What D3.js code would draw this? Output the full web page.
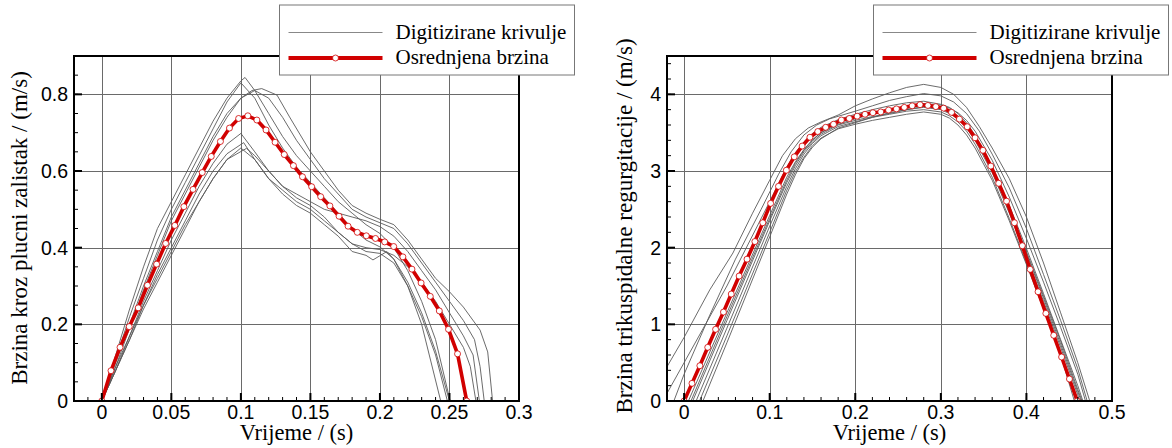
<!DOCTYPE html>
<html>
<head>
<meta charset="utf-8">
<script src="https://cdn.jsdelivr.net/npm/d3@7"></script>
<style>
  body { margin: 0; background: #fff; }
  svg { display: block; }
</style>
</head>
<body>
<svg width="1172" height="448"></svg>
<script>
// Legend labels shared by both panels
var legendLabels = ['Digitizirane krivulje', 'Osrednjena brzina'];

// ---- Left panel: flow through the pulmonary valve ----
var pulmXTicks = [0, 0.05, 0.1, 0.15, 0.2, 0.25, 0.3];
var pulmYTicks = [0, 0.2, 0.4, 0.6, 0.8];

// averaged velocity (red line with markers)
var pulmTime = [0, 0.0066, 0.0131, 0.0197, 0.0262, 0.0328, 0.0394, 0.0459, 0.0525, 0.059,
    0.0656, 0.0722, 0.0787, 0.0853, 0.0918, 0.0984, 0.105, 0.1115, 0.1181, 0.1246,
    0.1312, 0.1378, 0.1443, 0.1509, 0.1574, 0.164, 0.1706, 0.1771, 0.1837, 0.1902,
    0.1968, 0.2034, 0.2099, 0.2165, 0.223, 0.2296, 0.2362, 0.2427, 0.2493, 0.2558, 0.2624];
var pulmMean = [0, 0.079, 0.140, 0.194, 0.243, 0.302, 0.357, 0.411, 0.458, 0.507,
    0.552, 0.596, 0.638, 0.677, 0.712, 0.737, 0.744, 0.733, 0.707, 0.675,
    0.643, 0.614, 0.585, 0.559, 0.533, 0.509, 0.482, 0.456, 0.440, 0.431,
    0.424, 0.415, 0.403, 0.376, 0.344, 0.308, 0.273, 0.235, 0.187, 0.123, 0];

var pulmCurves = [
    [[0,0],[0.01,0.12],[0.02,0.24],[0.03,0.35],[0.04,0.45],[0.05,0.52],[0.06,0.59],[0.07,0.66],[0.08,0.73],[0.09,0.79],[0.1,0.835],[0.103,0.844],[0.11,0.81],[0.12,0.75],[0.13,0.69],[0.14,0.64],[0.15,0.6],[0.16,0.56],[0.17,0.52],[0.18,0.49],[0.19,0.46],[0.2,0.437],[0.21,0.4],[0.22,0.34],[0.23,0.26],[0.24,0.16],[0.2505,0]],
    [[0,0],[0.01,0.11],[0.02,0.22],[0.03,0.32],[0.04,0.42],[0.05,0.5],[0.06,0.57],[0.07,0.64],[0.08,0.71],[0.09,0.78],[0.1,0.83],[0.11,0.79],[0.12,0.72],[0.13,0.66],[0.14,0.61],[0.15,0.57],[0.16,0.53],[0.17,0.49],[0.18,0.45],[0.19,0.42],[0.2,0.402],[0.21,0.37],[0.22,0.3],[0.23,0.2],[0.2437,0]],
    [[0,0],[0.01,0.09],[0.02,0.19],[0.03,0.29],[0.04,0.38],[0.05,0.47],[0.06,0.54],[0.07,0.61],[0.08,0.68],[0.09,0.74],[0.1,0.79],[0.108,0.81],[0.115,0.815],[0.126,0.798],[0.135,0.741],[0.15,0.65],[0.16,0.6],[0.17,0.55],[0.18,0.51],[0.19,0.49],[0.2,0.474],[0.21,0.46],[0.22,0.42],[0.23,0.37],[0.24,0.32],[0.25,0.285],[0.26,0.245],[0.272,0.185],[0.2775,0.128],[0.281,0]],
    [[0,0],[0.01,0.1],[0.02,0.2],[0.03,0.3],[0.04,0.39],[0.05,0.48],[0.06,0.55],[0.07,0.62],[0.08,0.69],[0.09,0.75],[0.1,0.79],[0.11,0.81],[0.12,0.79],[0.13,0.74],[0.14,0.68],[0.15,0.63],[0.16,0.58],[0.17,0.54],[0.18,0.5],[0.19,0.48],[0.2,0.465],[0.21,0.45],[0.22,0.41],[0.23,0.36],[0.24,0.31],[0.25,0.26],[0.26,0.21],[0.268,0.16],[0.272,0.09],[0.275,0]],
    [[0,0],[0.01,0.09],[0.02,0.17],[0.03,0.26],[0.04,0.34],[0.05,0.42],[0.06,0.49],[0.07,0.56],[0.08,0.62],[0.09,0.67],[0.1,0.698],[0.11,0.65],[0.12,0.6],[0.13,0.56],[0.14,0.54],[0.15,0.52],[0.16,0.5],[0.17,0.49],[0.18,0.48],[0.19,0.47],[0.2,0.455],[0.21,0.43],[0.22,0.39],[0.23,0.34],[0.24,0.29],[0.25,0.23],[0.26,0.17],[0.267,0.12],[0.2715,0]],
    [[0,0],[0.01,0.08],[0.02,0.16],[0.03,0.25],[0.04,0.33],[0.05,0.4],[0.06,0.47],[0.07,0.54],[0.08,0.6],[0.09,0.645],[0.102,0.674],[0.11,0.63],[0.12,0.58],[0.13,0.55],[0.14,0.52],[0.15,0.5],[0.16,0.47],[0.17,0.44],[0.18,0.41],[0.19,0.39],[0.2,0.385],[0.21,0.36],[0.22,0.3],[0.23,0.22],[0.24,0.12],[0.2485,0]],
    [[0,0],[0.01,0.08],[0.02,0.16],[0.03,0.24],[0.04,0.31],[0.05,0.38],[0.06,0.45],[0.07,0.52],[0.08,0.58],[0.09,0.63],[0.1,0.66],[0.11,0.63],[0.12,0.58],[0.13,0.54],[0.14,0.51],[0.15,0.49],[0.16,0.46],[0.17,0.43],[0.18,0.39],[0.19,0.38],[0.195,0.368],[0.205,0.39],[0.21,0.37],[0.22,0.31],[0.23,0.23],[0.24,0.13],[0.25,0]],
    [[0,0],[0.01,0.08],[0.02,0.17],[0.03,0.25],[0.04,0.32],[0.05,0.39],[0.06,0.46],[0.07,0.52],[0.08,0.58],[0.09,0.63],[0.104,0.659],[0.11,0.64],[0.12,0.6],[0.13,0.56],[0.14,0.53],[0.15,0.51],[0.16,0.48],[0.17,0.44],[0.18,0.41],[0.19,0.4],[0.2,0.395],[0.21,0.38],[0.22,0.35],[0.23,0.31],[0.24,0.26],[0.25,0.2],[0.26,0.14],[0.265,0.09],[0.269,0]]
];

// ---- Right panel: tricuspid regurgitation ----
var trikXTicks = [0, 0.1, 0.2, 0.3, 0.4, 0.5];
var trikYTicks = [0, 1, 2, 3, 4];

var trikTime = [0, 0.0092, 0.0184, 0.0276, 0.0368, 0.046, 0.0551, 0.0643, 0.0735, 0.0827,
    0.0919, 0.1011, 0.1103, 0.1195, 0.1287, 0.1379, 0.147, 0.1562, 0.1654, 0.1746,
    0.1838, 0.193, 0.2022, 0.2114, 0.2206, 0.2298, 0.2389, 0.2481, 0.2573, 0.2665,
    0.2757, 0.2849, 0.2941, 0.3033, 0.3125, 0.3217, 0.3308, 0.34, 0.3492, 0.3584,
    0.3676, 0.3768, 0.386, 0.3952, 0.4044, 0.4136, 0.4227, 0.4319, 0.4411, 0.4503, 0.4595];
var trikMean = [0, 0.23, 0.46, 0.70, 0.935, 1.16, 1.395, 1.63, 1.85, 2.08,
    2.325, 2.578, 2.80, 3.01, 3.185, 3.325, 3.44, 3.515, 3.57, 3.61,
    3.665, 3.685, 3.715, 3.74, 3.76, 3.77, 3.795, 3.81, 3.83, 3.85,
    3.865, 3.855, 3.84, 3.82, 3.765, 3.677, 3.577, 3.433, 3.27, 3.064,
    2.84, 2.607, 2.325, 2.025, 1.717, 1.425, 1.143, 0.857, 0.574, 0.287, 0];

var trikCurves = [
    [[-0.02,0.447],[0,0.83],[0.03,1.45],[0.057,1.93],[0.08,2.45],[0.1,2.88],[0.115,3.2],[0.13,3.42],[0.145,3.56],[0.16,3.64],[0.18,3.73],[0.2,3.85],[0.22,3.94],[0.24,4.02],[0.26,4.09],[0.28,4.13],[0.3,4.09],[0.315,4.0],[0.33,3.83],[0.345,3.58],[0.36,3.3],[0.38,2.9],[0.4,2.4],[0.42,1.8],[0.44,1.15],[0.46,0.5],[0.474,0]],
    [[-0.012,0],[0,0.35],[0.03,1.12],[0.06,1.85],[0.09,2.5],[0.11,2.95],[0.125,3.25],[0.14,3.47],[0.155,3.6],[0.17,3.68],[0.2,3.78],[0.22,3.85],[0.24,3.92],[0.26,3.97],[0.28,4.01],[0.3,3.98],[0.315,3.9],[0.33,3.75],[0.345,3.52],[0.36,3.22],[0.38,2.78],[0.4,2.25],[0.42,1.65],[0.44,1.05],[0.46,0.42],[0.471,0]],
    [[0.005,0],[0.05,1.15],[0.1,2.42],[0.12,2.92],[0.13,3.12],[0.14,3.28],[0.15,3.41],[0.16,3.5],[0.18,3.61],[0.2,3.68],[0.22,3.74],[0.24,3.78],[0.26,3.82],[0.28,3.85],[0.3,3.82],[0.31,3.78],[0.32,3.7],[0.33,3.58],[0.34,3.43],[0.36,3.02],[0.38,2.5],[0.4,1.95],[0.42,1.37],[0.44,0.78],[0.46,0.15],[0.465,0]],
    [[0.01,0],[0.05,1.05],[0.1,2.35],[0.12,2.85],[0.13,3.07],[0.14,3.25],[0.15,3.38],[0.16,3.48],[0.18,3.6],[0.2,3.66],[0.22,3.71],[0.24,3.75],[0.26,3.8],[0.28,3.83],[0.3,3.8],[0.31,3.75],[0.32,3.68],[0.33,3.56],[0.34,3.4],[0.36,2.98],[0.38,2.45],[0.4,1.88],[0.42,1.3],[0.44,0.7],[0.46,0.08],[0.462,0]],
    [[0.014,0],[0.05,0.95],[0.1,2.28],[0.12,2.8],[0.13,3.03],[0.14,3.22],[0.15,3.36],[0.16,3.46],[0.18,3.58],[0.2,3.64],[0.22,3.7],[0.24,3.74],[0.26,3.78],[0.28,3.8],[0.3,3.77],[0.31,3.72],[0.32,3.64],[0.33,3.52],[0.34,3.35],[0.36,2.92],[0.38,2.38],[0.4,1.8],[0.42,1.22],[0.44,0.62],[0.458,0]],
    [[0.018,0],[0.05,0.85],[0.1,2.2],[0.12,2.75],[0.13,2.99],[0.14,3.18],[0.15,3.33],[0.16,3.43],[0.18,3.55],[0.2,3.61],[0.22,3.66],[0.24,3.7],[0.26,3.74],[0.28,3.77],[0.3,3.74],[0.31,3.69],[0.32,3.6],[0.33,3.47],[0.34,3.3],[0.36,2.88],[0.38,2.35],[0.4,1.78],[0.42,1.2],[0.44,0.6],[0.456,0]],
    [[0.022,0],[0.05,0.76],[0.1,2.14],[0.12,2.7],[0.13,2.95],[0.14,3.16],[0.15,3.31],[0.16,3.42],[0.18,3.56],[0.2,3.63],[0.22,3.7],[0.24,3.76],[0.26,3.8],[0.28,3.84],[0.3,3.81],[0.31,3.77],[0.32,3.7],[0.33,3.58],[0.34,3.43],[0.36,3.02],[0.38,2.5],[0.4,1.93],[0.42,1.34],[0.44,0.74],[0.46,0.12],[0.464,0]],
    [[0.008,0],[0.05,1.1],[0.1,2.38],[0.12,2.88],[0.13,3.1],[0.14,3.27],[0.15,3.4],[0.16,3.5],[0.18,3.63],[0.2,3.7],[0.22,3.76],[0.24,3.8],[0.26,3.84],[0.28,3.88],[0.3,3.86],[0.31,3.82],[0.32,3.76],[0.33,3.66],[0.34,3.52],[0.36,3.14],[0.38,2.66],[0.4,2.12],[0.42,1.55],[0.44,0.96],[0.46,0.35],[0.469,0]],
    [[-0.02,0.1],[0,0.5],[0.05,1.5],[0.1,2.6],[0.12,3.05],[0.13,3.24],[0.14,3.38],[0.15,3.49],[0.16,3.57],[0.18,3.67],[0.2,3.74],[0.22,3.8],[0.24,3.85],[0.26,3.89],[0.28,3.91],[0.3,3.87],[0.31,3.83],[0.32,3.75],[0.33,3.63],[0.34,3.47],[0.36,3.06],[0.38,2.55],[0.4,1.99],[0.42,1.4],[0.44,0.8],[0.46,0.2],[0.466,0]]
];

var svg = d3.select('svg');
var red = '#d10000';
var gray = '#5a5a5a';
var serif = '"Liberation Serif", "Times New Roman", serif';
var sans = '"Liberation Sans", Arial, sans-serif';

// draw one framed panel with grid, curves, mean line, axes and legend
function drawPanel(p) {
    var x = d3.scaleLinear().domain(p.xDomain).range(p.xRange);
    var y = d3.scaleLinear().domain(p.yDomain).range([401, 56]);
    var g = svg.append('g');

    g.append('clipPath').attr('id', p.id + '-clip')
        .append('rect')
        .attr('x', x.range()[0]).attr('y', y.range()[1])
        .attr('width', x.range()[1] - x.range()[0])
        .attr('height', y.range()[0] - y.range()[1]);

    // grid lines at the major ticks
    g.selectAll('.vgrid')
        .data(p.xTicks.filter(function(d) { return x(d) < x.range()[1] - 1; }))
        .enter().append('line')
        .attr('x1', function(d) { return Math.round(x(d)) + 0.5; })
        .attr('x2', function(d) { return Math.round(x(d)) + 0.5; })
        .attr('y1', y.range()[0]).attr('y2', y.range()[1])
        .style('stroke', '#6a6a6a').style('stroke-width', 1);
    g.selectAll('.hgrid')
        .data(p.yTicks.filter(function(d) { return d > 0; }))
        .enter().append('line')
        .attr('y1', function(d) { return Math.round(y(d)) + 0.5; })
        .attr('y2', function(d) { return Math.round(y(d)) + 0.5; })
        .attr('x1', x.range()[0]).attr('x2', x.range()[1])
        .style('stroke', '#6a6a6a').style('stroke-width', 1);

    var plot = g.append('g').attr('clip-path', 'url(#' + p.id + '-clip)');

    var curveLine = d3.line()
        .x(function(d) { return x(d[0]); })
        .y(function(d) { return y(d[1]); });
    plot.selectAll('.curve')
        .data(p.curves)
        .enter().append('path')
        .attr('d', curveLine)
        .style('fill', 'none')
        .style('stroke', gray)
        .style('stroke-width', 0.9);

    // averaged velocity
    var meanData = p.time.map(function(t, i) { return [t, p.mean[i]]; });
    plot.append('path')
        .datum(meanData)
        .attr('d', curveLine)
        .style('fill', 'none')
        .style('stroke', red)
        .style('stroke-width', 3.6);
    plot.selectAll('.marker')
        .data(meanData)
        .enter().append('circle')
        .attr('cx', function(d) { return x(d[0]); })
        .attr('cy', function(d) { return y(d[1]); })
        .attr('r', 3)
        .style('fill', '#fff')
        .style('stroke', red)
        .style('stroke-width', 0.8);

    // minor and major ticks, pointing into the plot
    var bottom = y.range()[0], left = x.range()[0];
    g.selectAll('.xminor')
        .data(p.xMinor)
        .enter().append('line')
        .attr('x1', function(d) { return x(d); }).attr('x2', function(d) { return x(d); })
        .attr('y1', bottom).attr('y2', bottom - 4)
        .style('stroke', '#000').style('stroke-width', 1);
    g.selectAll('.xmajor')
        .data(p.xTicks)
        .enter().append('line')
        .attr('x1', function(d) { return x(d); }).attr('x2', function(d) { return x(d); })
        .attr('y1', bottom).attr('y2', bottom - 8)
        .style('stroke', '#000').style('stroke-width', 2);
    g.selectAll('.yminor')
        .data(p.yMinor)
        .enter().append('line')
        .attr('y1', function(d) { return y(d); }).attr('y2', function(d) { return y(d); })
        .attr('x1', left).attr('x2', left + 4)
        .style('stroke', '#000').style('stroke-width', 1);
    g.selectAll('.ymajor')
        .data(p.yTicks)
        .enter().append('line')
        .attr('y1', function(d) { return y(d); }).attr('y2', function(d) { return y(d); })
        .attr('x1', left).attr('x2', left + 8)
        .style('stroke', '#000').style('stroke-width', 2);

    // frame
    g.append('rect')
        .attr('x', x.range()[0]).attr('y', y.range()[1])
        .attr('width', x.range()[1] - x.range()[0])
        .attr('height', y.range()[0] - y.range()[1])
        .style('fill', 'none').style('stroke', '#000').style('stroke-width', 2);

    // tick labels
    g.selectAll('.xlabel')
        .data(p.xTicks)
        .enter().append('text')
        .text(function(d) { return String(d); })
        .attr('x', function(d) { return x(d); })
        .attr('y', 419)
        .style('text-anchor', 'middle')
        .style('font-family', sans).style('font-size', '19.5px');
    g.selectAll('.ylabel')
        .data(p.yTicks)
        .enter().append('text')
        .text(function(d) { return String(d); })
        .attr('x', left - 6)
        .attr('y', function(d) { return y(d); })
        .attr('dy', '0.36em')
        .style('text-anchor', 'end')
        .style('font-family', sans).style('font-size', '19.5px');

    // axis titles
    g.append('text')
        .text('Vrijeme / (s)')
        .attr('x', (x.range()[0] + x.range()[1]) / 2)
        .attr('y', 440)
        .style('text-anchor', 'middle')
        .style('font-family', serif).style('font-size', '22.5px');
    g.append('text')
        .text(p.yTitle)
        .attr('transform', 'translate(' + p.yTitleX + ',' + p.yTitleY + ') rotate(-90)')
        .style('text-anchor', 'middle')
        .style('font-family', serif).style('font-size', '23px');

    // legend
    var lg = svg.append('g').attr('transform', 'translate(' + p.legendX + ',5)');
    lg.append('rect')
        .attr('width', 295).attr('height', 70)
        .style('fill', '#fff').style('stroke', '#777').style('stroke-width', 1);
    lg.append('line')
        .attr('x1', 9).attr('x2', 103).attr('y1', 27.5).attr('y2', 27.5)
        .style('stroke', '#888').style('stroke-width', 1);
    lg.append('line')
        .attr('x1', 9).attr('x2', 103).attr('y1', 53).attr('y2', 53)
        .style('stroke', red).style('stroke-width', 4);
    lg.append('circle')
        .attr('cx', 56).attr('cy', 53).attr('r', 3)
        .style('fill', '#fff').style('stroke', red).style('stroke-width', 0.8);
    lg.selectAll('.ltext')
        .data(legendLabels)
        .enter().append('text')
        .text(function(d) { return d; })
        .attr('x', 116)
        .attr('y', function(d, i) { return 34 + i * 25; })
        .style('font-family', serif).style('font-size', '21px');
}

drawPanel({
    id: 'pulm',
    xDomain: [-0.02, 0.3], xRange: [74, 519],
    yDomain: [0, 0.9],
    xTicks: pulmXTicks, yTicks: pulmYTicks,
    xMinor: d3.range(-0.02, 0.3001, 0.01), yMinor: d3.range(0, 0.9001, 0.05),
    time: pulmTime, mean: pulmMean, curves: pulmCurves,
    yTitle: 'Brzina kroz plucni zalistak / (m/s)', yTitleX: 27, yTitleY: 228,
    legendX: 279.5
});

drawPanel({
    id: 'trik',
    xDomain: [-0.02, 0.5], xRange: [667, 1112],
    yDomain: [0, 4.5],
    xTicks: trikXTicks, yTicks: trikYTicks,
    xMinor: d3.range(-0.02, 0.5001, 0.02), yMinor: d3.range(0, 4.5001, 0.2),
    time: trikTime, mean: trikMean, curves: trikCurves,
    yTitle: 'Brzina trikuspidalne regurgitacije / (m/s)', yTitleX: 632, yTitleY: 226,
    legendX: 873.5
});
</script>
</body>
</html>
